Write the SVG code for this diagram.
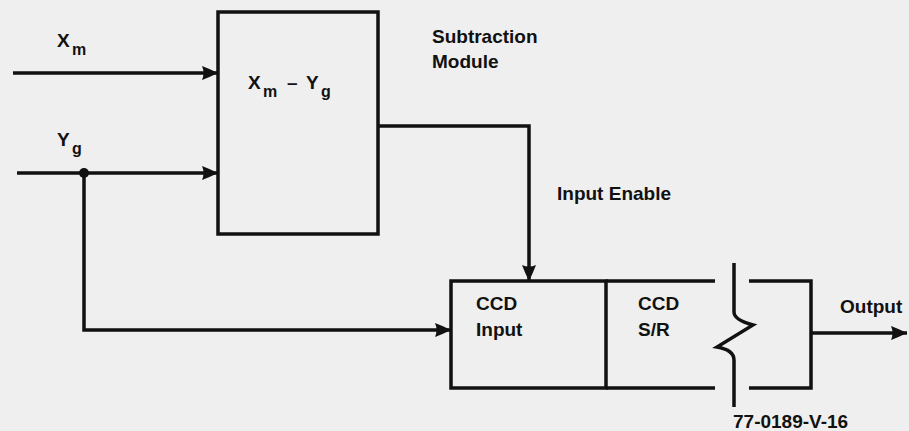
<svg xmlns="http://www.w3.org/2000/svg" width="909" height="431" viewBox="0 0 909 431">
<defs>
<marker id="arr" markerUnits="userSpaceOnUse" markerWidth="18" markerHeight="18" refX="16" refY="9" orient="auto">
<path d="M0,2 Q8,5 16,9 Q8,13 0,16 Q3,9 0,2 z" fill="#111"/>
</marker>
<style>
.ln{fill:none;stroke:#111;stroke-width:3.5;stroke-linejoin:miter}
.bx{fill:none;stroke:#111;stroke-width:3.5}
text{font-family:"Liberation Sans",Arial,sans-serif;font-weight:bold;font-size:19px;fill:#111}
.sub{font-size:16px}
</style>
</defs>
<rect width="909" height="431" fill="#efefef"/>
<g id="subtraction-module">
<rect class="bx" x="218" y="12" width="160" height="222"/>
<text x="248" y="89">X</text>
<text class="sub" x="263" y="97">m</text>
<text x="287" y="89">–</text>
<text x="306" y="89">Y</text>
<text class="sub" x="321" y="97">g</text>
<text x="432" y="43">Subtraction</text>
<text x="432" y="68">Module</text>
</g>
<g id="ccd-input">
<rect class="bx" x="451" y="281" width="155" height="107"/>
<text x="476" y="310">CCD</text>
<text x="476" y="336">Input</text>
</g>
<g id="ccd-sr">
<path class="ln" d="M606,281 H715 M606,388 H715 M749,281 H811 V388 H749"/>
<path class="ln" d="M734,263 V312 Q734,320 753,325 L717,347 Q734,350 734,360 V407"/>
<text x="638" y="310">CCD</text>
<text x="638" y="336">S/R</text>
</g>
<g id="labels">
<text x="57" y="47">X</text>
<text class="sub" x="72" y="55">m</text>
<text x="57" y="146">Y</text>
<text class="sub" x="72" y="154">g</text>
<text x="557" y="200">Input Enable</text>
<text x="840" y="313">Output</text>
<text x="733" y="428">77-0189-V-16</text>
</g>
<g id="connectors">
<path class="ln" d="M13,73 H218" marker-end="url(#arr)"/>
<path class="ln" d="M17,173 H218" marker-end="url(#arr)"/>
<circle cx="84" cy="173" r="5" fill="#111"/>
<path class="ln" d="M84,173 V330 H451" marker-end="url(#arr)"/>
<path class="ln" d="M378,126 H529 V281" marker-end="url(#arr)"/>
<path class="ln" d="M811,333 H907" marker-end="url(#arr)"/>
</g>
</svg>
